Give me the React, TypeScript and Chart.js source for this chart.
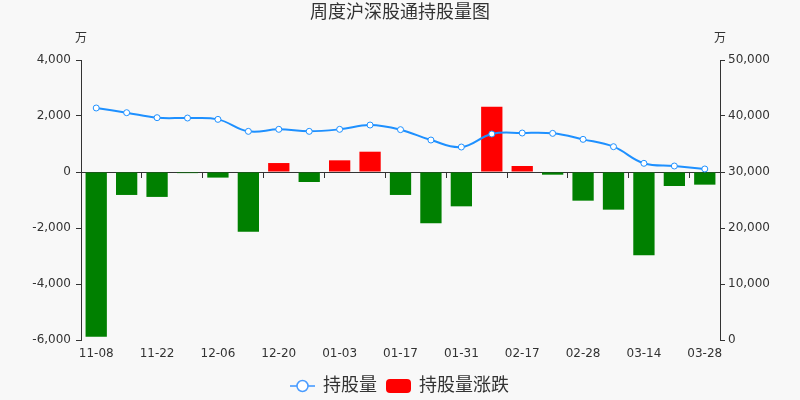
import React, { useEffect, useRef } from "react";
import { Chart, registerables } from "chart.js";

Chart.register(...registerables);

const categories = [
  "11-08", "11-15", "11-22", "11-29", "12-06", "12-13", "12-20", "12-27",
  "01-03", "01-10", "01-17", "01-24", "01-31", "02-10", "02-17", "02-21",
  "02-28", "03-07", "03-14", "03-21", "03-28",
];

// 持股量 (万), right axis
const holdings = [
  41430, 40590, 39700, 39640, 39400, 37260, 37620, 37260, 37620, 38390, 37560,
  35710, 34460, 36790, 36960, 36900, 35830, 34520, 31550, 31070, 30540,
];

// 持股量涨跌 (万), left axis
const changes = [
  -5880, -820, -890, -40, -200, -2130, 320, -357, 417, 725, -820,
  -1833, -1226, 2333, 214, -96, -1024, -1345, -2976, -500, -452,
];

const leftTicks = [-6000, -4000, -2000, 0, 2000, 4000];
const rightTicks = [0, 10000, 20000, 30000, 40000, 50000];

const TITLE = "周度沪深股通持股量图";
const UNIT = "万";
const LINE_LABEL = "持股量";
const BAR_LABEL = "持股量涨跌";

const FONT = "'DejaVu Sans', 'Noto Sans CJK SC', sans-serif";
const TEXT = "#333";
const LINE_COLOR = "#1e90ff";

function makeLineIcon(): HTMLCanvasElement {
  const c = document.createElement("canvas");
  c.width = 25;
  c.height = 14;
  const g = c.getContext("2d")!;
  g.strokeStyle = "#6aaeff";
  g.lineWidth = 2;
  g.beginPath();
  g.moveTo(0, 7);
  g.lineTo(25, 7);
  g.stroke();
  g.beginPath();
  g.arc(12.5, 7, 5.5, 0, Math.PI * 2);
  g.fillStyle = "#fff";
  g.fill();
  g.strokeStyle = "#4a9cff";
  g.lineWidth = 1.5;
  g.stroke();
  return c;
}

function makeBarIcon(): HTMLCanvasElement {
  const c = document.createElement("canvas");
  c.width = 25;
  c.height = 14;
  const g = c.getContext("2d")!;
  g.fillStyle = "#ff0000";
  g.beginPath();
  (g as any).roundRect(0, 0, 25, 14, 4);
  g.fill();
  return c;
}

const unitPlugin = {
  id: "unitLabels",
  afterDraw(chart: any) {
    const { ctx, chartArea } = chart;
    ctx.save();
    ctx.font = `12px ${FONT}`;
    ctx.fillStyle = TEXT;
    ctx.textAlign = "center";
    ctx.textBaseline = "middle";
    ctx.fillText(UNIT, chartArea.left, chartArea.top - 21);
    ctx.fillText(UNIT, chartArea.right, chartArea.top - 21);
    ctx.restore();
  },
};

export default function App() {
  const ref = useRef<HTMLCanvasElement>(null);

  useEffect(() => {
    const lineIcon = makeLineIcon();
    const barIcon = makeBarIcon();
    const chart = new Chart(ref.current!, {
      type: "bar",
      data: {
        labels: categories,
        datasets: [
          {
            type: "line",
            label: LINE_LABEL,
            data: holdings,
            yAxisID: "y1",
            xAxisID: "x",
            borderColor: LINE_COLOR,
            borderWidth: 2,
            backgroundColor: "#fff",
            pointBackgroundColor: "#fff",
            pointBorderColor: LINE_COLOR,
            pointBorderWidth: 1,
            pointRadius: 3,
            tension: 0.4,
            fill: false,
          } as any,
          {
            type: "bar",
            label: BAR_LABEL,
            data: changes,
            yAxisID: "y",
            xAxisID: "x",
            backgroundColor: changes.map((v) => (v >= 0 ? "#ff0000" : "#008000")),
            categoryPercentage: 1,
            barPercentage: 0.7,
          } as any,
        ],
      },
      options: {
        animation: false,
        responsive: false,
        layout: { padding: { left: 0, right: 0, top: 0, bottom: -5 } },
        plugins: {
          title: {
            display: true,
            text: TITLE,
            color: TEXT,
            font: { family: FONT, size: 18, weight: "normal", lineHeight: 1.2 },
            padding: { top: 3, bottom: 35.4 },
          },
          legend: {
            position: "bottom",
            labels: {
              color: TEXT,
              font: { family: FONT, size: 18 },
              usePointStyle: true,
              pointStyleWidth: 23,
              boxHeight: 14,
              padding: 10,
              generateLabels: () => [
                {
                  text: LINE_LABEL,
                  pointStyle: lineIcon,
                  fillStyle: "#fff",
                  strokeStyle: LINE_COLOR,
                  lineWidth: 0,
                  fontColor: TEXT,
                  datasetIndex: 0,
                  hidden: false,
                } as any,
                {
                  text: BAR_LABEL,
                  pointStyle: barIcon,
                  fillStyle: "#ff0000",
                  strokeStyle: "#ff0000",
                  lineWidth: 0,
                  fontColor: TEXT,
                  datasetIndex: 1,
                  hidden: false,
                } as any,
              ],
            },
          },
          tooltip: { enabled: false },
        },
        scales: {
          x: {
            type: "category",
            position: "bottom",
            offset: true,
            grid: { display: false, drawTicks: false },
            border: { display: false },
            ticks: {
              autoSkip: false,
              maxRotation: 0,
              padding: 7,
              color: TEXT,
              font: { family: FONT, size: 12 },
              callback: (_v: any, i: number) => (i % 2 === 0 ? categories[i] : ""),
            },
            afterFit: (s: any) => {
              const lh = s.chart.legend ? s.chart.legend.height : 0;
              s.height = s.chart.height + 5 - lh - 340;
            },
          } as any,
          x2: {
            type: "category",
            position: { y: 0 },
            offset: true,
            grid: {
              offset: true,
              drawOnChartArea: false,
              drawTicks: true,
              tickLength: 5,
              color: (ctx: any) => (ctx.index % 2 === 0 ? "#333" : "rgba(0,0,0,0)"),
            },
            border: { display: true, color: "#333", width: 1 },
            ticks: { display: false, autoSkip: false },
          } as any,
          y: {
            type: "linear",
            position: "left",
            min: -6000,
            max: 4000,
            afterBuildTicks: (s: any) => {
              s.ticks = leftTicks.map((v) => ({ value: v }));
            },
            grid: {
              drawOnChartArea: false,
              drawTicks: true,
              tickLength: 5,
              color: "#333",
            },
            border: { display: true, color: "#333", width: 1 },
            ticks: {
              padding: 5,
              color: TEXT,
              font: { family: FONT, size: 12 },
              callback: (v: any) => Number(v).toLocaleString("en-US"),
            },
            afterFit: (s: any) => {
              s.width = 81;
            },
          } as any,
          y1: {
            type: "linear",
            position: "right",
            min: 0,
            max: 50000,
            afterBuildTicks: (s: any) => {
              s.ticks = rightTicks.map((v) => ({ value: v }));
            },
            grid: {
              drawOnChartArea: false,
              drawTicks: true,
              tickLength: 5,
              color: "#333",
            },
            border: { display: true, color: "#333", width: 1 },
            ticks: {
              padding: 3,
              color: TEXT,
              font: { family: FONT, size: 12 },
              callback: (v: any) => Number(v).toLocaleString("en-US"),
            },
            afterFit: (s: any) => {
              s.width = 80;
            },
          } as any,
        },
      },
      plugins: [unitPlugin],
    });
    return () => chart.destroy();
  }, []);

  return (
    <div
      style={{
        position: "fixed",
        left: 0,
        top: 0,
        width: 800,
        height: 400,
        background: "#f8f8f8",
      }}
    >
      <canvas ref={ref} width={800} height={400} />
    </div>
  );
}
